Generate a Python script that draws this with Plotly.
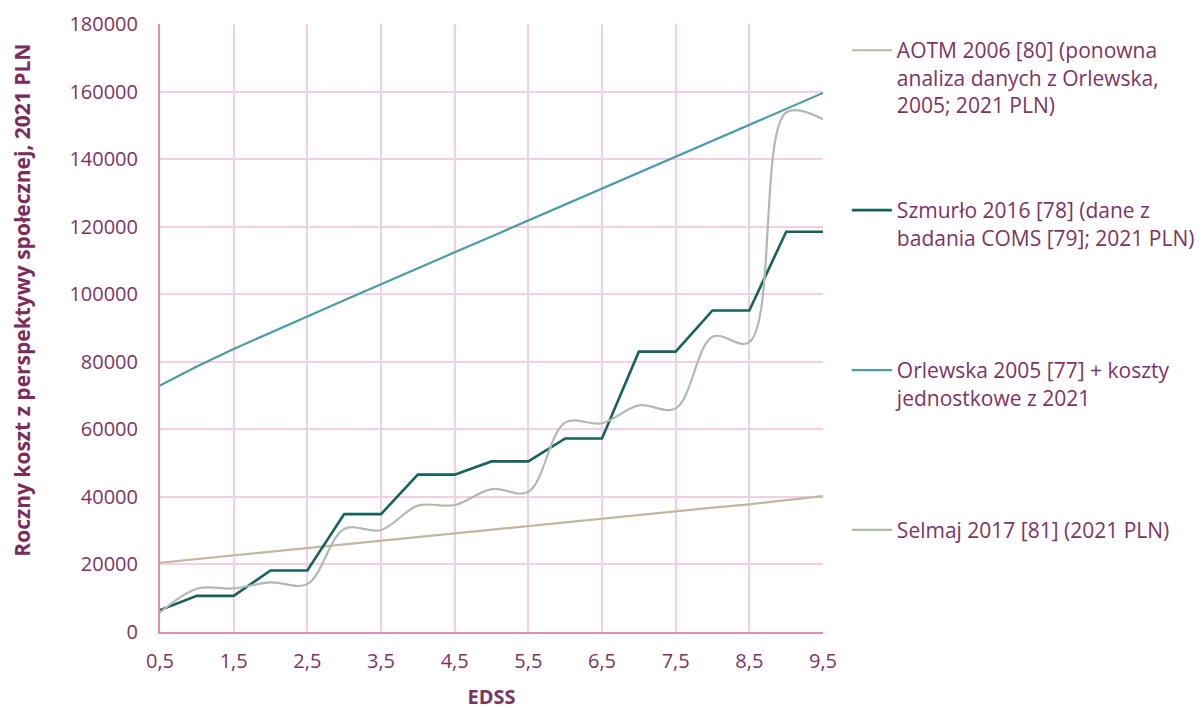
import plotly.graph_objects as go

edss = [0.5, 1.0, 1.5, 2.0, 2.5, 3.0, 3.5, 4.0, 4.5, 5.0, 5.5, 6.0, 6.5, 7.0, 7.5, 8.0, 8.5, 9.0, 9.5]

aotm = [20500, 21600, 22700, 23800, 24900, 26000, 27000, 28000, 29100, 30200, 31300, 32400,
        33500, 34600, 35700, 36800, 37800, 39000, 40200]
szmurlo = [6500, 10700, 10700, 18200, 18200, 34900, 34900, 46600, 46600, 50500, 50500, 57300,
           57300, 83000, 83000, 95200, 95200, 118500, 118500]
orlewska = [73000, 78600, 83800, 88700, 93400, 98200, 103000, 107700, 112400, 117100, 121800,
            126600, 131300, 136000, 140700, 145400, 150200, 154900, 159600]
selmaj = [5800, 12800, 12900, 14700, 14200, 30500, 30200, 37400, 37600, 42300, 41500, 62000,
          61800, 67100, 66200, 87400, 85800, 153800, 151800]

names = [
    "AOTM 2006 [80] (ponowna<br>analiza danych z Orlewska,<br>2005; 2021 PLN)",
    "Szmurło 2016 [78] (dane z<br>badania COMS [79]; 2021 PLN)<br> ",
    "Orlewska 2005 [77] + koszty<br>jednostkowe z 2021<br> ",
    "Selmaj 2017 [81] (2021 PLN)",
]
colors = ["#C2B69E", "#17625A", "#4B9CA6", "#B0BAB0"]
widths = [2.2, 2.6, 2.2, 2.2]
series = [aotm, szmurlo, orlewska, selmaj]
shapes = ["linear", "linear", "linear", "spline"]

text_col = "#7E3462"
grid_col = "#F3CFDF"
axis_col = "#DA90B6"
font_family = "'Open Sans', Lato, sans-serif"

fig = go.Figure()
for i, (nm, ys) in enumerate(zip(names, series)):
    fig.add_trace(go.Scatter(
        x=edss, y=ys, mode="lines", name=nm, legendgroup=f"g{i}",
        line=dict(color=colors[i], width=widths[i], shape=shapes[i], smoothing=1.0),
    ))

fig.update_layout(
    width=1195, height=702,
    margin=dict(l=152, r=380, t=16, b=78, autoexpand=False),
    paper_bgcolor="white", plot_bgcolor="white",
    separators=", ",
    font=dict(family=font_family, size=20, color=text_col),
    showlegend=True,
    legend=dict(
        x=1.036, y=0.99, xanchor="left", yanchor="top",
        valign="top", tracegroupgap=75, traceorder="grouped",
        font=dict(family=font_family, size=21, color=text_col),
        itemwidth=40, bgcolor="rgba(0,0,0,0)",
    ),
    xaxis=dict(
        range=[0.5, 9.5], tickvals=[0.5, 1.5, 2.5, 3.5, 4.5, 5.5, 6.5, 7.5, 8.5, 9.5],
        tickformat=".1f", showgrid=True, gridcolor=grid_col, gridwidth=1.5,
        showline=True, linecolor=axis_col, linewidth=2, zeroline=False,
        ticks="", ticklabelstandoff=10, automargin=False,
        tickfont=dict(size=20, color=text_col),
        title=dict(text="<b>EDSS</b>", font=dict(size=20, color=text_col), standoff=17),
    ),
    yaxis=dict(
        range=[0, 180000], dtick=20000, tickformat="d",
        showgrid=True, gridcolor=grid_col, gridwidth=1.5,
        showline=True, linecolor=axis_col, linewidth=2, zeroline=False,
        ticks="", ticklabelstandoff=16, automargin=False,
        tickfont=dict(size=20, color=text_col),
    ),
    annotations=[dict(
        text="<b>Roczny koszt z perspektywy społecznej, 2021 PLN</b>",
        xref="paper", yref="paper", x=-0.208, y=0.545, xanchor="center", yanchor="middle",
        textangle=-90, showarrow=False,
        font=dict(family=font_family, size=21, color="#7A2C5C"),
    )],
)

fig.write_html("out.html")
